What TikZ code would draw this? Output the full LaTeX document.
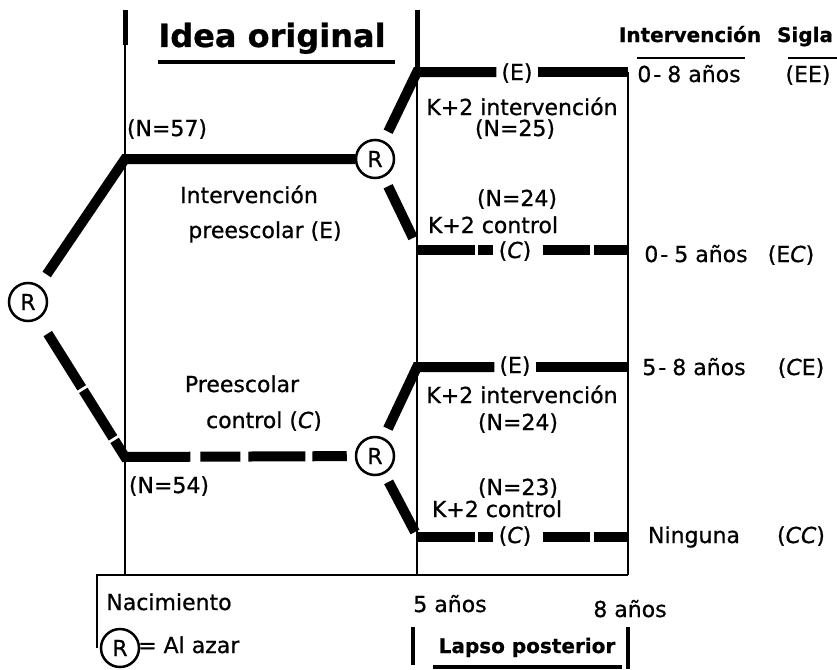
\documentclass[tikz,border=0pt]{standalone}
\usepackage{fontspec}
\setmainfont{DejaVu Sans}[FakeBold=0.7, ItalicFeatures={FakeBold=0.7}]
\usepackage{tikz}

\tikzset{
  azar/.style={circle, draw, line width=2.5pt, minimum size=38pt, inner sep=0pt, font=\fontsize{22}{24}\selectfont},
  txt/.style={anchor=base, inner sep=0pt, font=\fontsize{22}{24}\selectfont},
  grupo/.style={txt, inner xsep=5pt},
  titulo/.style={anchor=base, inner sep=0pt, font=\bfseries\fontsize{32}{36}\selectfont},
  cabecera/.style={anchor=base, inner sep=0pt, font=\bfseries\fontsize{20}{24}\selectfont},
  grueso/.style={line width=10pt},
  fino/.style={line width=1.8pt},
  barra/.style={line width=5pt},
}

\begin{document}
\begin{tikzpicture}[x=1pt, y=-1pt]
    \useasboundingbox (0,0) rectangle (837,669);

    % Ejes de tiempo
    \draw[barra] (125,10) -- (125,45);
    \draw[fino] (125,45) -- (125,575);
    \draw[barra] (417,10) -- (417,67);
    \draw[fino] (417,67) -- (417,575);
    \draw[fino] (628,72) -- (628,575);
    \draw[fino] (97,648) -- (97,575) -- (628,575);

    % Titulos
    \node[titulo] (idea) at (272,47) {Idea original};
    \draw[line width=4pt] (158,62) -- (395,62);
    \node[cabecera] (interv) at (690,42) {Intervención};
    \node[cabecera] (sigla) at (805,42) {Sigla};
    \draw[line width=2.5pt] (637,58) -- (745,58);
    \draw[line width=2.5pt] (788,58) -- (837,58);

    % Asignaciones al azar
    \node[azar] (R0) at (28,302) {R};
    \node[azar] (R1) at (375,159) {R};
    \node[azar] (R2) at (375,456) {R};
    \coordinate (jE) at (125,159);
    \coordinate (jC) at (125,457);

    % Preescolar
    \draw[grueso, shorten <=13pt] (R0) -- (jE) -- (R1);
    \draw[grueso, shorten <=17pt, shorten >=8pt,
          dash pattern=on 64pt off 3pt on 56pt off 3pt on 85pt off 10pt on 40pt off 8pt on 57pt off 7pt on 46pt off 20pt]
          (R0) -- (jC) -- (R2);

    % K+2, rama superior
    \coordinate (jE1) at (417,72);
    \coordinate (eE1) at (628,72);
    \coordinate (jC1) at (417,250);
    \coordinate (kC1) at (413,238);
    \coordinate (eC1) at (628,250);
    \node[grupo] (E1) at (517,80) {(E)};
    \node[txt, inner xsep=2pt] (C1) at (515,258) {(\textit{C})};
    \draw[grueso, shorten <=10pt] (R1) -- (jE1) -- (E1.west |- jE1);
    \draw[grueso] (E1.east |- jE1) -- (eE1);
    \draw[grueso, shorten <=10pt] (R1) -- (kC1);
    \draw[grueso, dash pattern=on 58pt off 3pt on 15pt off 100pt] (jC1) -- (C1.west |- jC1);
    \draw[grueso, shorten <=10pt, dash pattern=on 47pt off 4pt on 40pt] (C1.east |- jC1) -- (eC1);

    % K+2, rama inferior
    \coordinate (jE2) at (417,367);
    \coordinate (eE2) at (628,367);
    \coordinate (jC2) at (417,537);
    \coordinate (kC2) at (415,532);
    \coordinate (eC2) at (628,537);
    \node[grupo] (E2) at (515,373) {(E)};
    \node[txt, inner xsep=2pt] (C2) at (515,543) {(\textit{C})};
    \draw[grueso, shorten <=10pt] (R2) -- (jE2) -- (E2.west |- jE2);
    \draw[grueso] (E2.east |- jE2) -- (eE2);
    \draw[grueso, shorten <=9pt] (R2) -- (kC2);
    \draw[grueso, dash pattern=on 58pt off 3pt on 15pt off 100pt] (jC2) -- (C2.west |- jC2);
    \draw[grueso, shorten <=10pt, dash pattern=on 47pt off 4pt on 40pt] (C2.east |- jC2) -- (eC2);

    % Etiquetas de grupos
    \node[txt] (n57) at (167,136) {(N=57)};
    \node[txt] (intE) at (249,203) {Intervención};
    \node[txt] (preE) at (265,238) {preescolar (E)};
    \node[txt] (preC) at (242,392) {Preescolar};
    \node[txt] (ctlC) at (264,428) {control (\textit{C})};
    \node[txt] (n54) at (169,493) {(N=54)};

    \node[txt] (k2iA) at (522,115) {K+2 intervención};
    \node[txt] (n25) at (515,136) {(N=25)};
    \node[txt] (n24a) at (517,206) {(N=24)};
    \node[txt] (k2cA) at (493,233) {K+2 control};
    \node[txt] (k2iB) at (522,403) {K+2 intervención};
    \node[txt] (n24b) at (518,430) {(N=24)};
    \node[txt] (n23) at (518,495) {(N=23)};
    \node[txt] (k2cB) at (497,517) {K+2 control};

    % Intervencion y sigla
    \node[txt] (i08) at (689,82) {0\kern2pt-\kern6pt8 años};
    \node[txt] (sEE) at (808,82) {(EE)};
    \node[txt] (i05) at (696,262) {0\kern2pt-\kern6pt5 años};
    \node[txt] (sEC) at (791,262) {(E\textit{C})};
    \node[txt] (i58) at (694,375) {5\kern2pt-\kern6pt8 años};
    \node[txt] (sCE) at (801,375) {(\textit{C}E)};
    \node[txt] (i00) at (694,543) {Ninguna};
    \node[txt] (sCC) at (801,543) {(\textit{CC})};

    % Linea de tiempo
    \node[txt] (nac) at (169,610) {Nacimiento};
    \node[txt] (a5) at (450,612) {5 años};
    \node[txt] (a8) at (630,617) {8 años};
    \node[azar] (Rley) at (120,648) {R};
    \node[txt, anchor=base west] (ley) at (138,653) {= Al azar};
    \draw[line width=4pt] (413,627) -- (413,665);
    \draw[line width=4pt] (628,627) -- (628,669);
    \node[cabecera] (lapso) at (527,653) {Lapso posterior};
    \draw[line width=4pt] (433,667) -- (622,667);
\end{tikzpicture}
\end{document}
